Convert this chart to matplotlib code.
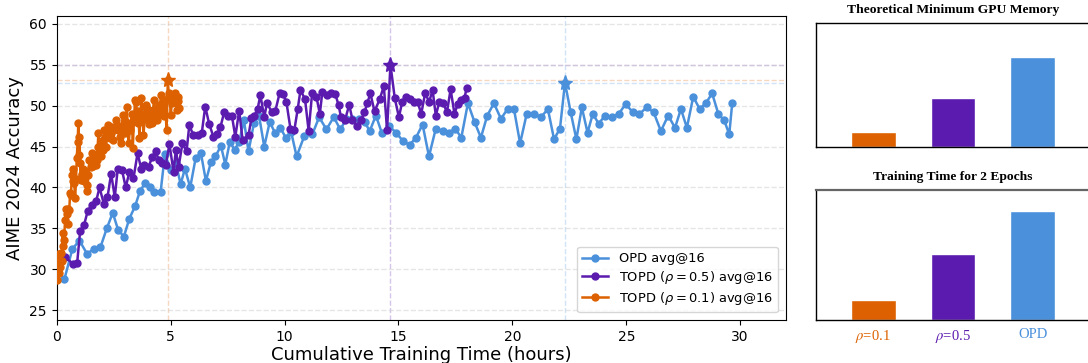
import numpy as np
import matplotlib
matplotlib.use("Agg")
import matplotlib.pyplot as plt

# ---------------- data ----------------
opd_x = [0.34, 0.69, 1.00, 1.33, 1.64, 1.92, 2.20, 2.46, 2.70, 2.95,
         3.19, 3.44, 3.66, 3.88, 4.10, 4.29, 4.56, 4.75, 5.01, 5.23,
         5.44, 5.63, 5.86, 6.10, 6.33, 6.55, 6.77, 6.97, 7.21, 7.40,
         7.60, 7.81, 8.01, 8.22, 8.42, 8.66, 8.88, 9.11, 9.35, 9.58,
         9.82, 10.05, 10.29, 10.53, 10.87, 11.22, 11.52, 11.84, 12.16, 12.45,
         12.72, 12.97, 13.26, 13.52, 13.74, 14.01, 14.28, 14.59, 14.90, 15.19,
         15.49, 15.77, 16.06, 16.34, 16.64, 16.94, 17.22, 17.49, 17.76, 18.05,
         18.34, 18.62, 18.90, 19.19, 19.50, 19.79, 20.07, 20.34, 20.63, 20.95,
         21.26, 21.56, 21.83, 22.09, 22.31, 22.56, 22.81, 23.05, 23.30, 23.53,
         23.79, 24.07, 24.37, 24.67, 24.97, 25.29, 25.58, 25.90, 26.20, 26.52,
         26.84, 27.14, 27.40, 27.66, 27.94, 28.22, 28.49, 28.77, 29.04, 29.30,
         29.52, 29.65]
opd_y = [28.8, 32.5, 33.5, 31.9, 32.5, 32.7, 35.0, 36.9, 34.8, 34.0,
         36.2, 37.7, 39.6, 40.5, 40.1, 39.4, 39.4, 44.1, 42.1, 43.0,
         40.4, 42.3, 40.0, 43.6, 44.2, 40.8, 43.1, 43.8, 45.1, 42.8,
         45.6, 44.6, 45.6, 48.2, 44.4, 47.9, 48.8, 45.0, 48.0, 46.7,
         47.3, 46.1, 46.8, 43.8, 46.3, 46.5, 48.6, 47.1, 48.6, 47.1,
         48.4, 48.4, 48.4, 48.0, 46.9, 48.8, 46.6, 47.5, 46.7, 45.7,
         45.2, 46.1, 47.7, 43.8, 47.2, 46.9, 46.7, 47.2, 46.1, 50.3,
         48.0, 46.1, 48.8, 50.3, 48.4, 49.6, 49.6, 45.4, 49.0, 49.0,
         48.6, 49.6, 45.9, 47.2, 52.8, 49.2, 45.9, 49.8, 46.7, 49.0,
         47.8, 48.8, 48.6, 49.0, 50.2, 49.2, 49.0, 49.8, 49.2, 46.9,
         48.8, 47.3, 49.6, 47.3, 51.1, 49.6, 50.3, 51.5, 49.0, 48.2,
         46.5, 50.3]

topd05_x = [0.03, 0.37, 0.70, 0.90, 1.03, 1.20, 1.36, 1.54, 1.73, 1.88,
            2.07, 2.23, 2.39, 2.55, 2.68, 2.87, 3.03, 3.19, 3.37, 3.55,
            3.71, 3.85, 4.03, 4.19, 4.34, 4.48, 4.64, 4.79, 4.95, 5.13,
            5.23, 5.35, 5.52, 5.70, 5.82, 6.00, 6.20, 6.37, 6.52, 6.69,
            6.88, 7.03, 7.19, 7.35, 7.52, 7.69, 7.84, 8.01, 8.16, 8.42,
            8.55, 8.66, 8.82, 8.94, 9.11, 9.23, 9.45, 9.60, 9.79, 9.93,
            10.08, 10.26, 10.43, 10.58, 10.70, 10.90, 11.06, 11.21, 11.40, 11.55,
            11.66, 11.87, 12.06, 12.23, 12.37, 12.48, 12.66, 12.84, 12.98, 13.19,
            13.35, 13.51, 13.63, 13.77, 13.95, 14.18, 14.36, 14.50, 14.65, 14.84,
            15.02, 15.17, 15.35, 15.50, 15.68, 15.85, 16.00, 16.17, 16.35, 16.50,
            16.64, 16.79, 16.97, 17.13, 17.29, 17.46, 17.60, 17.76, 17.90, 18.00]
topd05_y = [31.5, 31.5, 30.7, 30.8, 34.7, 35.4, 37.1, 37.9, 38.3, 40.0,
            38.0, 38.8, 41.7, 38.8, 42.3, 42.1, 40.0, 41.9, 41.1, 44.2,
            42.3, 42.8, 42.5, 43.7, 44.4, 43.4, 43.0, 42.8, 45.3, 41.9,
            44.6, 42.5, 45.4, 44.4, 47.6, 46.4, 46.4, 46.7, 49.9, 47.8,
            46.2, 46.5, 47.4, 49.2, 48.8, 48.8, 46.2, 49.4, 45.8, 46.4,
            48.5, 48.7, 49.6, 51.3, 48.6, 50.3, 49.2, 49.4, 51.6, 51.4,
            50.5, 47.2, 47.0, 49.6, 51.9, 50.8, 46.9, 51.5, 51.1, 49.0,
            51.7, 51.3, 51.5, 51.4, 50.1, 48.6, 48.3, 50.1, 48.3, 47.5,
            48.2, 49.2, 50.3, 51.5, 49.3, 50.8, 52.4, 47.0, 55.0, 50.9,
            48.6, 50.5, 51.1, 50.8, 50.5, 50.4, 49.0, 51.5, 50.5, 51.9,
            48.8, 50.4, 50.3, 49.2, 52.0, 49.0, 50.2, 50.7, 51.0, 52.2]

topd01_x = [0.00, 0.04, 0.07, 0.11, 0.15, 0.19, 0.22, 0.26, 0.29, 0.32,
            0.37, 0.41, 0.44, 0.48, 0.51, 0.55, 0.59, 0.63, 0.66, 0.70,
            0.73, 0.77, 0.81, 0.85, 0.88, 0.92, 0.95, 0.98, 1.00, 1.03,
            1.05, 1.09, 1.13, 1.17, 1.21, 1.25, 1.29, 1.32, 1.35, 1.39,
            1.44, 1.49, 1.54, 1.58, 1.61, 1.66, 1.71, 1.76, 1.80, 1.83,
            1.88, 1.93, 1.97, 2.02, 2.05, 2.08, 2.12, 2.17, 2.22, 2.27,
            2.33, 2.39, 2.44, 2.49, 2.55, 2.61, 2.66, 2.71, 2.76, 2.81,
            2.86, 2.90, 2.95, 3.00, 3.04, 3.08, 3.12, 3.16, 3.21, 3.25,
            3.30, 3.34, 3.39, 3.44, 3.49, 3.55, 3.59, 3.63, 3.68, 3.72,
            3.77, 3.81, 3.86, 3.90, 3.94, 3.98, 4.03, 4.07, 4.12, 4.17,
            4.22, 4.27, 4.31, 4.36, 4.41, 4.47, 4.52, 4.57, 4.61, 4.66,
            4.71, 4.76, 4.82, 4.88, 4.91, 4.95, 5.01, 5.05, 5.10, 5.15,
            5.19, 5.23, 5.27, 5.31, 5.34, 5.39]
topd01_y = [28.7, 31.7, 31.9, 29.5, 30.3, 32.0, 31.0, 34.4, 32.8, 33.6,
            36.0, 37.4, 36.8, 35.5, 37.4, 37.2, 39.3, 39.1, 41.5, 40.8,
            42.3, 40.5, 38.7, 41.0, 43.6, 45.5, 47.9, 44.0, 46.2, 43.0,
            40.9, 41.6, 41.5, 42.3, 40.8, 42.0, 41.7, 40.3, 39.6, 41.5,
            43.4, 42.5, 44.2, 43.0, 42.6, 44.0, 42.8, 43.4, 45.0, 46.6,
            44.4, 43.8, 45.2, 45.8, 44.6, 47.0, 46.2, 45.0, 46.8, 47.7,
            46.0, 46.6, 47.4, 45.8, 47.2, 48.3, 47.6, 47.0, 46.2, 45.4,
            47.5, 48.9, 47.8, 46.6, 48.0, 49.9, 47.2, 45.4, 47.0, 47.9,
            49.0, 44.8, 48.2, 50.7, 50.5, 47.9, 49.3, 46.0, 48.8, 50.9,
            49.0, 46.4, 48.4, 49.9, 50.1, 48.5, 47.8, 49.5, 48.8, 47.9,
            49.2, 50.7, 49.6, 49.1, 48.3, 50.1, 49.0, 51.3, 50.2, 49.5,
            48.8, 50.7, 47.0, 53.2, 51.6, 51.1, 48.9, 50.3, 50.9, 51.2,
            51.5, 50.4, 49.5, 50.6, 51.1, 49.7]

series_labels = ["OPD avg@16", r"TOPD ($\rho=0.5$) avg@16", r"TOPD ($\rho=0.1$) avg@16"]

bar_labels = [r"$\rho$=0.1", r"$\rho$=0.5", "OPD"]
memory_vals = [0.173, 0.543, 1.0]
time_vals = [5.4, 18.0, 29.6]

C_BLUE = "#4A90DB"
C_PURPLE = "#5B1BAF"
C_ORANGE = "#DD6100"

# ---------------- figure ----------------
fig = plt.figure(figsize=(10.88, 3.63), dpi=100)

ax = fig.add_axes([0.0521, 0.1185, 0.6701, 0.8382])

series = [(opd_x, opd_y, C_BLUE), (topd05_x, topd05_y, C_PURPLE), (topd01_x, topd01_y, C_ORANGE)]
for i, ((xs, ys, c), lab) in enumerate(zip(series, series_labels)):
    ax.plot(xs, ys, "-o", color=c, lw=1.8, ms=5, label=lab, zorder=3 + i)

for i, (xs, ys, c) in enumerate(series):
    k = int(np.argmax(ys))
    ax.axhline(ys[k], color=c, ls="--", lw=1.0, alpha=0.25, zorder=1)
    ax.axvline(xs[k], color=c, ls="--", lw=1.0, alpha=0.25, zorder=1)
    ax.plot([xs[k]], [ys[k]], marker="*", ms=11, color=c, zorder=6 + i, ls="none")

ax.set_xlim(0, 32)
ax.set_ylim(23.8, 61)
ax.set_xticks([0, 5, 10, 15, 20, 25, 30])
ax.set_yticks([25, 30, 35, 40, 45, 50, 55, 60])
ax.grid(axis="y", ls="--", color="#cccccc", alpha=0.5, lw=1.0)
ax.tick_params(labelsize=10)
ax.set_xlabel("Cumulative Training Time (hours)", fontsize=13, labelpad=2)
ax.set_ylabel("AIME 2024 Accuracy", fontsize=13)
ax.legend(loc="lower right", fontsize=9.4, frameon=True, labelspacing=0.3,
          handlelength=2.0, borderaxespad=0.6)

# ---------------- right panels ----------------
serif = ["Liberation Serif", "DejaVu Serif"]
bar_colors = [C_ORANGE, C_PURPLE, C_BLUE]

ax1 = fig.add_axes([0.75, 0.594, 0.2518, 0.3433])
ax2 = fig.add_axes([0.75, 0.1185, 0.2518, 0.358])

for a, vals, title, ytop in [(ax1, memory_vals, "Theoretical Minimum GPU Memory", 1.38),
                              (ax2, time_vals, "Training Time for 2 Epochs", 35.3)]:
    xpos = np.arange(len(vals))
    a.bar(xpos, vals, width=0.56, color=bar_colors, edgecolor="white", linewidth=1.0)
    a.set_xlim(-0.72, 2.72)
    a.set_ylim(0, ytop)
    a.set_yticks([])
    a.set_title(title, fontsize=9.7, family=serif, fontweight="bold", pad=7)
    for s in a.spines.values():
        s.set_color("black")
        s.set_linewidth(1.0)

ax1.set_xticks([])
ax2.spines["top"].set_color("#666666")
ax2.spines["top"].set_linewidth(1.6)
ax2.set_xticks(np.arange(len(bar_labels)))
ax2.set_xticklabels(bar_labels, fontsize=10.5, family=serif, math_fontfamily="stix")
ax2.tick_params(axis="x", length=0, pad=6)
for t, c in zip(ax2.get_xticklabels(), bar_colors):
    t.set_color(c)

fig.savefig("out.png", dpi=100)
